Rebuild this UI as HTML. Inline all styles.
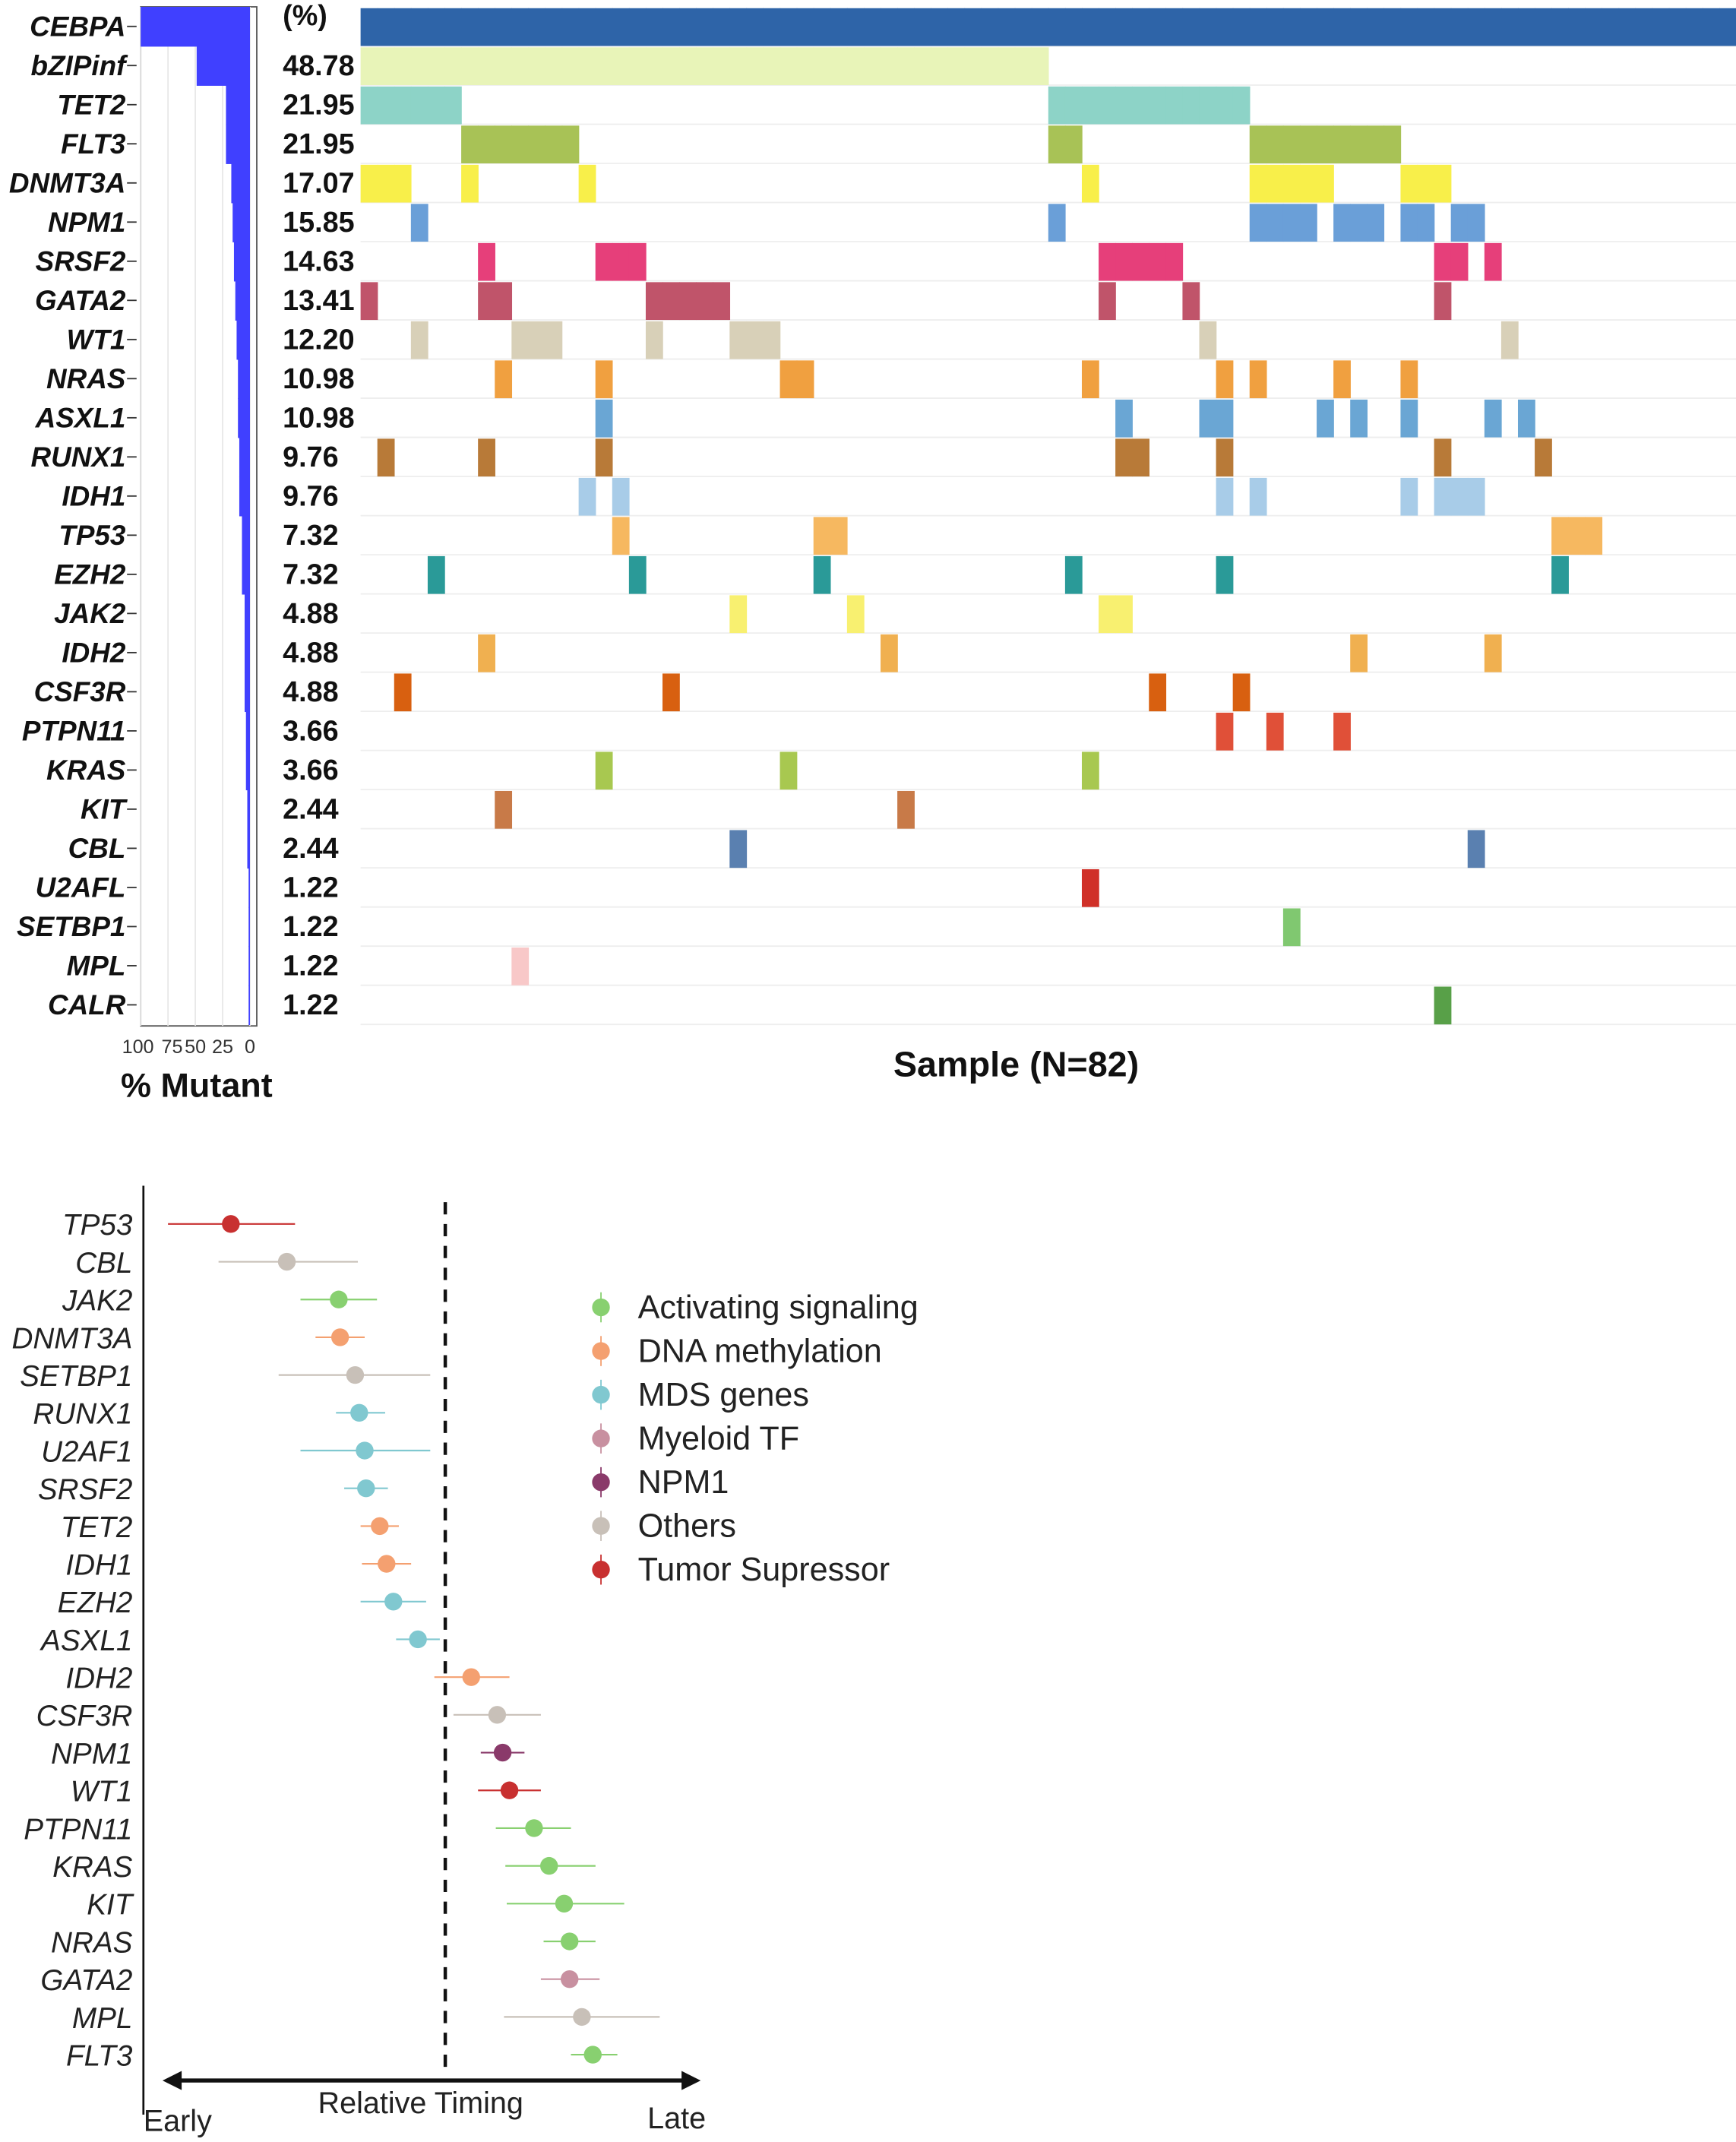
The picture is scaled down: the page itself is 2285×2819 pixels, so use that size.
<!DOCTYPE html>
<html><head><meta charset="utf-8">
<style>
html,body{margin:0;padding:0;background:#fff;}
svg{display:block;font-family:"Liberation Sans",Arial,sans-serif;}
</style></head>
<body>
<svg id="chart" width="2285" height="2819" viewBox="0 0 1271 1568" preserveAspectRatio="none" xmlns="http://www.w3.org/2000/svg">
<g id="onco"></g>
<g id="timing"></g>
</svg>
<script>
const genes = ["CEBPA","bZIPinf","TET2","FLT3","DNMT3A","NPM1","SRSF2","GATA2","WT1","NRAS","ASXL1","RUNX1","IDH1","TP53","EZH2","JAK2","IDH2","CSF3R","PTPN11","KRAS","KIT","CBL","U2AFL","SETBP1","MPL","CALR"];
const pctLabels = ["","48.78","21.95","21.95","17.07","15.85","14.63","13.41","12.20","10.98","10.98","9.76","9.76","7.32","7.32","4.88","4.88","4.88","3.66","3.66","2.44","2.44","1.22","1.22","1.22","1.22"];
const pctValues = [100,48.78,21.95,21.95,17.07,15.85,14.63,13.41,12.20,10.98,10.98,9.76,9.76,7.32,7.32,4.88,4.88,4.88,3.66,3.66,2.44,2.44,1.22,1.22,1.22,1.22];
const geneColors = ["#2e64a8","#e8f4b8","#8dd3c7","#a8c256","#f8ef4a","#6a9fd8","#e63f7a","#c0546a","#d8d0b8","#f0a040","#6aa6d4","#b87a38","#a8cce8","#f6b860","#2a9a98","#f8f070","#f0b050","#d86010","#e05038","#a8c850","#c87a48","#5a80b0","#d03028","#80c870","#f8c8c8","#58a048"];
const nSamples = 82;
const mutated = [
 Array.from({length:82},(_,i)=>i),
 Array.from({length:41},(_,i)=>i),
 [0,1,2,3,4,5,41,42,43,44,45,46,47,48,49,50,51,52],
 [6,7,8,9,10,11,12,41,42,53,54,55,56,57,58,59,60,61],
 [0,1,2,6,13,43,53,54,55,56,57,62,63,64],
 [3,41,53,54,55,56,58,59,60,62,63,65,66],
 [7,14,15,16,44,45,46,47,48,64,65,67],
 [0,7,8,17,18,19,20,21,44,49,64],
 [3,9,10,11,17,22,23,24,50,68],
 [8,14,25,26,43,51,53,58,62],
 [14,45,50,51,57,59,62,67,69],
 [1,7,14,45,46,51,64,70],
 [13,15,51,53,62,64,65,66],
 [15,27,28,71,72,73],
 [4,16,27,42,51,71],
 [22,29,44,45],
 [7,31,59,67],
 [2,18,47,52],
 [51,54,58],
 [14,25,43],
 [8,32],
 [22,66],
 [43],
 [55],
 [9],
 [64]
];
const tGenes = ["TP53","CBL","JAK2","DNMT3A","SETBP1","RUNX1","U2AF1","SRSF2","TET2","IDH1","EZH2","ASXL1","IDH2","CSF3R","NPM1","WT1","PTPN11","KRAS","KIT","NRAS","GATA2","MPL","FLT3"];
const tEst = [169,210,248,249,260,263,267,268,278,283,288,306,345,364,368,373,391,402,413,417,417,426,434];
const tLow = [123,160,220,231,204,246,220,252,264,265,264,290,318,332,352,350,363,370,371,398,396,369,418];
const tHigh = [216,262,276,267,315,282,315,284,292,301,312,322,373,396,384,396,418,436,457,436,439,483,452];
const tCat = [6,5,0,1,5,2,2,2,1,1,2,2,1,5,4,6,0,0,0,0,3,5,0];
const catNames = ["Activating signaling","DNA methylation","MDS genes","Myeloid TF","NPM1","Others","Tumor Supressor"];
const catColors = ["#88d070","#f4a070","#80c8d0","#c890a0","#8a3a6a","#c8c0b8","#c83030"];
const xTickLabels = ["100","75","50","25","0"];
const xTickValues = [100,75,50,25,0];

const NS="http://www.w3.org/2000/svg";
function mk(parent,tag,attrs,text){const e=document.createElementNS(NS,tag);for(const k in attrs)e.setAttribute(k,attrs[k]);if(text!==undefined)e.textContent=text;parent.appendChild(e);return e;}

const onco=document.getElementById('onco');
const rowY=i=>5+i*28.65;
const rowH=28.65;
const sx0=264, sw=1007/nSamples;
const sX=i=>sx0+i*sw;
const pX=v=>183-v*0.8;
for(let r=0;r<genes.length;r++){
  const g=mk(onco,'line',{x1:264,x2:1271,y1:rowY(r)+rowH,y2:rowY(r)+rowH,stroke:'#eeeeee','stroke-width':1});
  
  
}
const frame=mk(onco,'rect',{x:103,y:5,width:85,height:746,fill:'#fff',stroke:'#555','stroke-width':1});


xTickValues.forEach(v=>{
  const l=mk(onco,'line',{x1:pX(v),x2:pX(v),y1:5,y2:751,stroke:'#e8e8e8'});
  
  
});
genes.forEach((gname,r)=>{
  const y=rowY(r);
  const b=mk(onco,'rect',{x:pX(pctValues[r]),y:y,width:183-pX(pctValues[r]),height:rowH+0.5,fill:'#4040ff'});
  
  
  const t=mk(onco,'text',{x:92,y:y+rowH/2+7,'text-anchor':'end','font-size':20.5,'font-weight':'bold','font-style':'italic',fill:'#111'},gname);
  
  
  const tk=mk(onco,'line',{x1:93,x2:100,y1:y+rowH/2,y2:y+rowH/2,stroke:'#333'});
  
  
  const p=mk(onco,'text',{x:207,y:y+rowH/2+(r===0?-1:7),'font-size':21,'font-weight':'bold',fill:'#111'},r===0?'(%)':pctLabels[r]);
  
  
  mutated[r].forEach(s=>{
    const c=mk(onco,'rect',{x:sX(s),y:y+1,width:sw+0.4,height:rowH-1,fill:geneColors[r]});
    
    
  });
});
const tickShift=[-2,3,0,0,0];
xTickValues.forEach((v,i)=>{
  const t=mk(onco,'text',{x:pX(v)+tickShift[i],y:771,'text-anchor':'middle','font-size':14,fill:'#333'},xTickLabels[i]);
  
  
});
let t1=mk(onco,'text',{x:144,y:803,'text-anchor':'middle','font-size':25,'font-weight':'bold',fill:'#111'},'% Mutant');

let t2=mk(onco,'text',{x:744,y:788,'text-anchor':'middle','font-size':26,'font-weight':'bold',fill:'#111'},'Sample (N=82)');


const tg=document.getElementById('timing');
const tY=i=>896+i*27.64;
let ax=mk(tg,'line',{x1:105,x2:105,y1:868,y2:1548,stroke:'#111','stroke-width':1.5});

let dl=mk(tg,'line',{x1:326,x2:326,y1:880,y2:1520,stroke:'#111','stroke-width':2.5,'stroke-dasharray':'9,7'});

tGenes.forEach((g,i)=>{
  const y=tY(i), col=catColors[tCat[i]];
  const t=mk(tg,'text',{x:97,y:y+8,'text-anchor':'end','font-size':21.5,'font-style':'italic',fill:'#222'},g);
  
  
  const e=mk(tg,'line',{x1:tLow[i],x2:tHigh[i],y1:y,y2:y,stroke:col,'stroke-width':1.2});
  
  
  const c=mk(tg,'circle',{cx:tEst[i],cy:y,r:6.5,fill:col});
  
  
});
catNames.forEach((n,i)=>{
  const y=957+i*32;
  const l=mk(tg,'line',{x1:440,x2:440,y1:y-11,y2:y+11,stroke:catColors[i],'stroke-width':1});
  
  const c=mk(tg,'circle',{cx:440,cy:y,r:6.5,fill:catColors[i]});
  
  const t=mk(tg,'text',{x:467,y:y+8,'font-size':24,fill:'#222'},n);
  
});
let ar=mk(tg,'line',{x1:128,x2:504,y1:1523,y2:1523,stroke:'#111','stroke-width':3});

let ah1=mk(tg,'path',{d:'M119 1523 L133 1516 L133 1530 Z',fill:'#111'});

let ah2=mk(tg,'path',{d:'M513 1523 L499 1516 L499 1530 Z',fill:'#111'});

let e1=mk(tg,'text',{x:105,y:1560,'font-size':22,fill:'#222'},'Early');

let e2=mk(tg,'text',{x:474,y:1558,'font-size':22,fill:'#222'},'Late');

let e3=mk(tg,'text',{x:308,y:1547,'text-anchor':'middle','font-size':22,fill:'#222'},'Relative Timing');

</script>
</body></html>
